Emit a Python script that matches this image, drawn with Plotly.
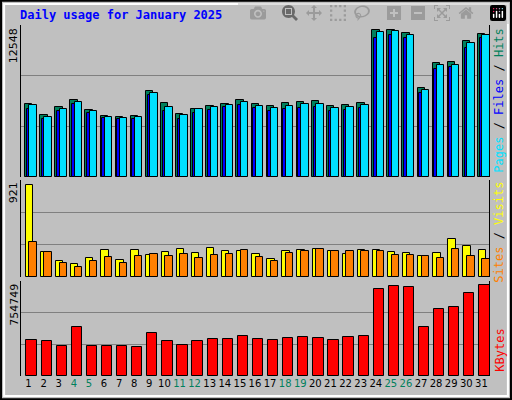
import plotly.graph_objs as go

days = list(range(1, 32))
weekend = [4, 5, 11, 12, 18, 19, 25, 26]

hits = [6246, 5309, 5990, 6586, 5735, 5224, 5139, 5224, 7353, 6331, 5394, 5820, 6075, 6246, 6586, 6246,
        6075, 6331, 6416, 6501, 6075, 6161, 6331, 12548, 12548, 12293, 7609, 9738, 9823, 11612, 12208]
files = [6161, 5139, 5820, 6416, 5650, 5139, 5053, 5139, 7183, 5990, 5309, 5820, 5990, 6161, 6416, 6075,
         5905, 6075, 6246, 6246, 5905, 5990, 6161, 12378, 12463, 12123, 7438, 9567, 9567, 11441, 12123]
pages = [5820, 4968, 5650, 6246, 5479, 5053, 4968, 4968, 7012, 5650, 4968, 5479, 5735, 5990, 6161, 5905,
         5650, 5820, 5905, 5990, 5650, 5735, 5905, 11867, 12123, 11867, 7183, 9227, 9397, 11015, 11867]
sites = [921, 250, 160, 130, 190, 270, 170, 270, 220, 250, 280, 240, 290, 260, 260, 230,
         180, 260, 270, 280, 260, 230, 270, 270, 250, 240, 210, 240, 380, 310, 270]
visits = [350, 250, 140, 100, 160, 200, 140, 210, 230, 210, 230, 190, 220, 230, 270, 200,
          160, 240, 260, 280, 260, 260, 260, 260, 220, 220, 210, 190, 280, 210, 180]
kbytes = [300251, 291988, 250669, 407681, 250669, 250669, 250669, 242405, 358098, 291988, 258932,
          291988, 308515, 308515, 333307, 308515, 300251, 316779, 325043, 316779, 300251, 325043,
          333307, 721705, 746497, 738233, 407681, 556429, 572956, 688650, 754749]

MONO = "DejaVu Sans Mono"
GREEN = "#00805C"
edge = dict(color="black", width=1)

fig = go.Figure()

def bar(y, color, offset, width, yaxis):
    fig.add_trace(go.Bar(x=days, y=y, offset=offset, width=width, yaxis=yaxis, xaxis="x",
                         marker=dict(color=color, line=edge), showlegend=False))

bar(hits, GREEN, -0.23, 0.49, "y")
bar(pages, "#0000FF", -0.12, 0.49, "y")
bar(files, "#00E0FF", 0.055, 0.49, "y")
bar(sites, "#FFFF00", -0.19, 0.49, "y2")
bar(visits, "#FF8000", 0.055, 0.49, "y2")
bar(kbytes, "#FF0000", -0.14, 0.68, "y3")

ticktext = [f"<span style='color:{GREEN}'>{d}</span>" if d in weekend else str(d) for d in days]

def yax(domain, top):
    return dict(domain=domain, range=[0, top], tickvals=[top / 3, 2 * top / 3], showticklabels=False,
                showgrid=True, gridcolor="#808080", gridwidth=1, zeroline=False,
                showline=True, linecolor="black", mirror=True, ticks="")

fig.update_layout(
    width=512, height=400, margin=dict(l=0, r=0, t=0, b=0),
    paper_bgcolor="#C0C0C0", plot_bgcolor="#C0C0C0", barmode="overlay", bargap=0,
    font=dict(family=MONO, size=12, color="black"),
    xaxis=dict(domain=[0.041, 0.955], range=[0.5, 31.5], tickvals=days, ticktext=ticktext,
               tickangle=0, anchor="y3", showline=False, showgrid=False, ticks="",
               tickfont=dict(family="DejaVu Sans", size=10)),
    yaxis=yax([0.5575, 0.9375], 12948),
    yaxis2=yax([0.3075, 0.55], 971),
    yaxis3=yax([0.06, 0.2975], 785000),
)

ann = [
    dict(x=0.035, y=0.962, text="<b>Daily usage for January 2025</b>", xanchor="left", yanchor="middle",
         font=dict(color="#0000FF", size=12, family=MONO)),
    dict(x=0.027, y=0.935, text="12548", textangle=-90, xanchor="center", yanchor="top",
         font=dict(size=11, family="DejaVu Sans")),
    dict(x=0.027, y=0.55, text="921", textangle=-90, xanchor="center", yanchor="top",
         font=dict(size=11, family="DejaVu Sans")),
    dict(x=0.027, y=0.295, text="754749", textangle=-90, xanchor="center", yanchor="top",
         font=dict(size=11, family="DejaVu Sans")),
    dict(x=0.975, y=0.935, textangle=-90, xanchor="center", yanchor="top",
         text="<span style='color:#00E0FF'>Pages</span> / <span style='color:#0000FF'>Files</span>"
              " / <span style='color:#00805C'>Hits</span>", font=dict(size=12, family=MONO)),
    dict(x=0.975, y=0.55, textangle=-90, xanchor="center", yanchor="top",
         text="<span style='color:#FF8000'>Sites</span> / <span style='color:#FFFF00'>Visits</span>",
         font=dict(size=12, family=MONO)),
    dict(x=0.975, y=0.065, textangle=-90, xanchor="center", yanchor="bottom",
         text="<span style='color:#FF0000'>KBytes</span>", font=dict(size=12, family=MONO)),
]
for a in ann:
    a.update(xref="paper", yref="paper", showarrow=False)
fig.update_layout(annotations=ann)

# outer bevel frame
fig.update_layout(shapes=[
    dict(type="rect", xref="paper", yref="paper", x0=0.002, y0=0.002, x1=0.998, y1=0.998,
         line=dict(color="black", width=2)),
    dict(type="rect", xref="paper", yref="paper", x0=0.008, y0=0.01, x1=0.992, y1=0.99,
         line=dict(color="white", width=2)),
])

fig.write_html("out.html", post_script="document.body.style.margin='0';")
